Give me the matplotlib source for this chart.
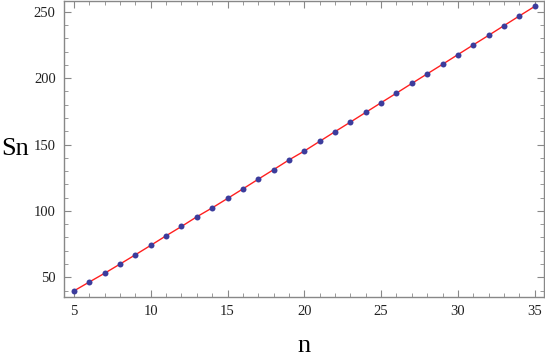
import matplotlib.pyplot as plt
from matplotlib.ticker import MultipleLocator

n = list(range(5, 36))
sn = [39.8, 46.5, 53.1, 60.0, 67.0, 74.1, 81.3, 88.3, 95.6, 102.3,
      109.4, 116.6, 123.9, 131.1, 138.4, 145.1, 152.4, 159.7, 166.9, 174.2,
      181.5, 188.7, 196.0, 203.2, 210.4, 217.7, 225.0, 232.2, 239.5, 246.8,
      254.0]

plt.rcParams['font.family'] = 'Liberation Serif'

fig = plt.figure(figsize=(5.45, 3.59), dpi=100)
ax = fig.add_axes([0.1174, 0.1727, 0.8806, 0.8243])

ax.plot(n, sn, color='#ff2020', lw=1.0, zorder=2)
ax.plot(n, sn, 'o', color='#3c3c9c', markersize=4.3, markeredgewidth=0, zorder=3)

ax.set_xlim(4.35, 35.6)
ax.set_ylim(35.2, 258)

ax.xaxis.set_major_locator(MultipleLocator(5))
ax.xaxis.set_minor_locator(MultipleLocator(1))
ax.yaxis.set_major_locator(MultipleLocator(50))
ax.yaxis.set_minor_locator(MultipleLocator(10))

for s in ax.spines.values():
    s.set_color('#888888')
    s.set_linewidth(1.0)

ax.tick_params(which='both', direction='in', top=True, right=True,
               color='#888888', labelsize=10.5, labelcolor='#222222')
ax.tick_params(which='major', length=5, width=0.8, pad=6)
ax.tick_params(which='minor', length=3, width=0.6)

ax.set_xlabel('n', fontsize=19, labelpad=12)
ax.set_ylabel('Sn', fontsize=19, rotation=0, ha='center', va='center')
ax.yaxis.set_label_coords(-0.102, 0.50)

fig.savefig('out.png', dpi=100)
